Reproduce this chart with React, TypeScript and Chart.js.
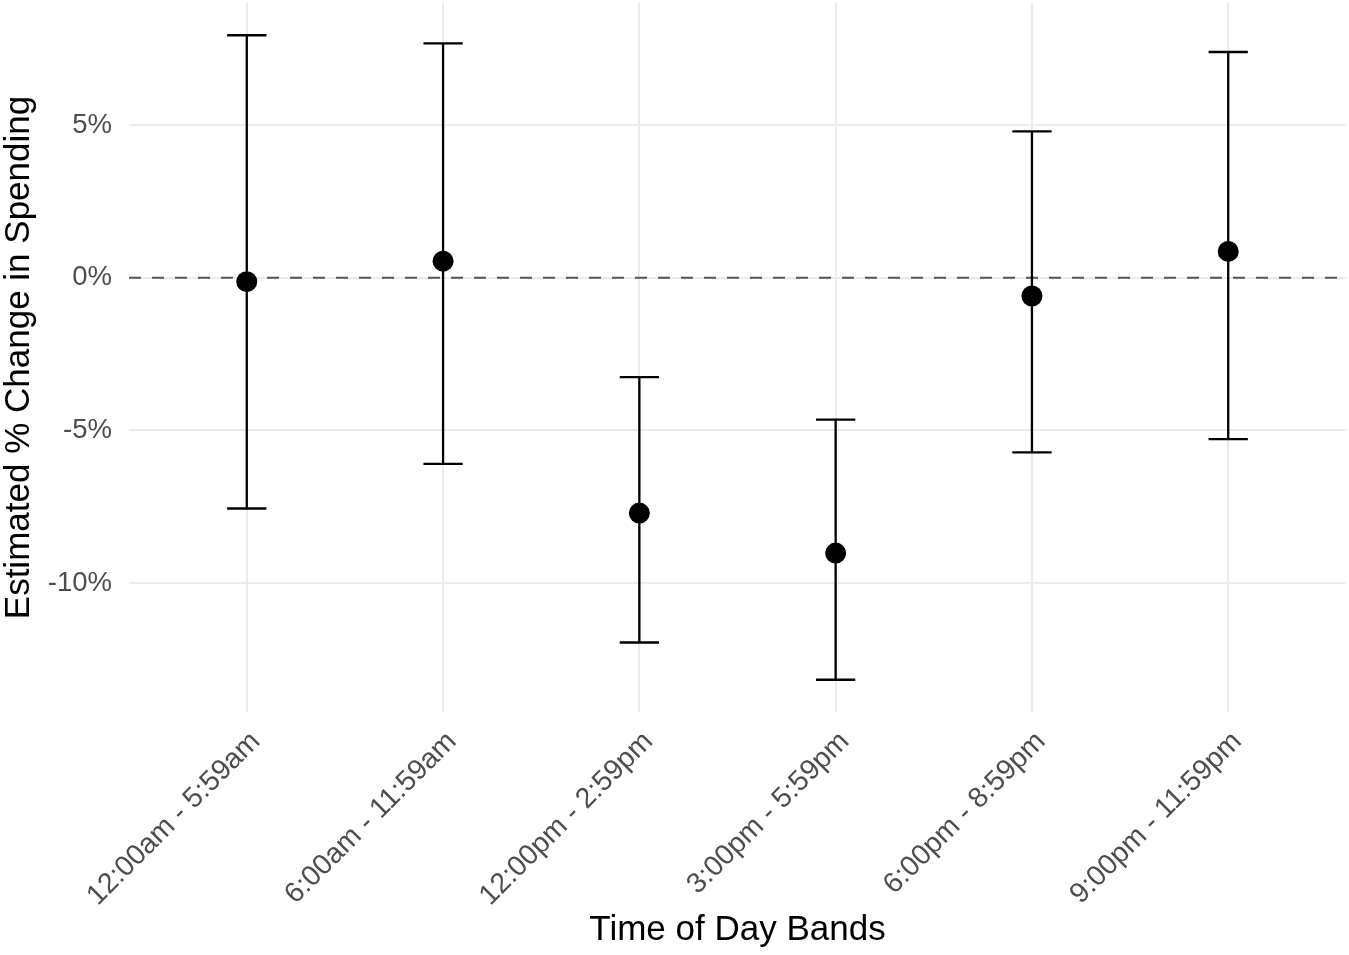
import React, { useEffect, useRef } from "react";
import { Chart, registerables } from "chart.js";

Chart.register(...registerables);

// ---- Data ----
const categories = [
  "12:00am - 5:59am",
  "6:00am - 11:59am",
  "12:00pm - 2:59pm",
  "3:00pm - 5:59pm",
  "6:00pm - 8:59pm",
  "9:00pm - 11:59pm",
];
const estimates = [-0.13, 0.54, -7.71, -9.02, -0.6, 0.86];
const lowerCI = [-7.56, -6.1, -11.95, -13.17, -5.72, -5.29];
const upperCI = [7.94, 7.67, -3.26, -4.65, 4.79, 7.39];
const yTicks = [-10, -5, 0, 5];
const referenceValue = 0;

const xTitle = "Time of Day Bands";
const yTitle = "Estimated % Change in Spending";

// ---- Style ----
const FONT = "'Liberation Sans', Arial, Helvetica, sans-serif";
const GRID = "#ebebeb";
const CAP_WIDTH = 0.2; // in category units
const X_EXPAND = 0.6; // ggplot discrete expansion
const Y_EXPAND = 0.05; // ggplot continuous expansion

const dataMin = Math.min(...lowerCI);
const dataMax = Math.max(...upperCI);
const yPad = (dataMax - dataMin) * Y_EXPAND;
const yMin = dataMin - yPad;
const yMax = dataMax + yPad;
const xMin = 1 - X_EXPAND;
const xMax = categories.length + X_EXPAND;

const errorBarPlugin = {
  id: "errorBars",
  afterDatasetDraw(chart: any, args: any) {
    if (args.index !== 1) return;
    const { ctx, scales } = chart;
    const x = scales.x;
    const y = scales.y;
    ctx.save();
    ctx.strokeStyle = "#000000";
    ctx.lineWidth = 2.3;
    ctx.lineCap = "butt";
    categories.forEach((_, i) => {
      const xc = x.getPixelForValue(i + 1);
      const half = x.getPixelForValue(i + 1 + CAP_WIDTH / 2) - xc;
      const yl = y.getPixelForValue(lowerCI[i]);
      const yu = y.getPixelForValue(upperCI[i]);
      ctx.beginPath();
      ctx.moveTo(xc, yu);
      ctx.lineTo(xc, yl);
      ctx.moveTo(xc - half, yu);
      ctx.lineTo(xc + half, yu);
      ctx.moveTo(xc - half, yl);
      ctx.lineTo(xc + half, yl);
      ctx.stroke();
    });
    ctx.restore();
  },
};

export default function App() {
  const canvasRef = useRef<HTMLCanvasElement | null>(null);

  useEffect(() => {
    const canvas = canvasRef.current;
    if (!canvas) return;
    const chart = new Chart(canvas, {
      type: "scatter",
      data: {
        datasets: [
          {
            type: "scatter",
            data: estimates.map((v, i) => ({ x: i + 1, y: v })),
            backgroundColor: "#000000",
            borderWidth: 0,
            pointRadius: 10.5,
            pointHoverRadius: 10.5,
          },
          {
            type: "line",
            data: [
              { x: xMin, y: referenceValue },
              { x: xMax, y: referenceValue },
            ],
            borderColor: "#555555",
            borderWidth: 2,
            borderDash: [12, 11],
            pointRadius: 0,
            fill: false,
          } as any,
        ],
      },
      options: {
        responsive: false,
        animation: false,
        layout: { autoPadding: false, padding: { top: 3, right: 3, left: 0, bottom: 0 } },
        plugins: {
          legend: { display: false },
          tooltip: { enabled: false },
        },
        scales: {
          x: {
            type: "linear",
            min: xMin,
            max: xMax,
            afterBuildTicks: (s: any) => {
              s.ticks = categories.map((_, i) => ({ value: i + 1 }));
            },
            afterFit: (s: any) => {
              s.height = 243;
              s.paddingLeft = 0;
              s.paddingRight = 0;
              s.paddingTop = 0;
              s.paddingBottom = 0;
            },
            ticks: {
              autoSkip: false,
              minRotation: 45,
              maxRotation: 45,
              padding: 13,
              labelOffset: 9,
              color: "#4d4d4d",
              font: { family: FONT, size: 28.5 },
              callback: (v: any) => categories[Math.round(Number(v)) - 1] ?? "",
            },
            grid: { color: GRID, lineWidth: 2, drawTicks: false },
            border: { display: false },
            title: {
              display: true,
              text: xTitle,
              color: "#000000",
              font: { family: FONT, size: 35 },
              padding: { top: 0, bottom: 4 },
            },
          },
          y: {
            type: "linear",
            min: yMin,
            max: yMax,
            afterBuildTicks: (s: any) => {
              s.ticks = yTicks.map((v) => ({ value: v }));
            },
            afterFit: (s: any) => {
              s.width = 129;
              s.paddingLeft = 0;
              s.paddingRight = 0;
              s.paddingTop = 0;
              s.paddingBottom = 0;
            },
            ticks: {
              padding: 17,
              color: "#4d4d4d",
              font: { family: FONT, size: 27.5 },
              callback: (v: any) => `${v}%`,
            },
            grid: { color: GRID, lineWidth: 2, drawTicks: false },
            border: { display: false },
            title: {
              display: true,
              text: yTitle,
              color: "#000000",
              font: { family: FONT, size: 35 },
              padding: { top: -2, bottom: 0 },
            },
          },
        },
      },
      plugins: [errorBarPlugin],
    });
    return () => chart.destroy();
  }, []);

  return (
    <div style={{ position: "absolute", left: 0, top: 0, width: 1349, height: 955, background: "#ffffff" }}>
      <canvas ref={canvasRef} width={1349} height={955} />
    </div>
  );
}
